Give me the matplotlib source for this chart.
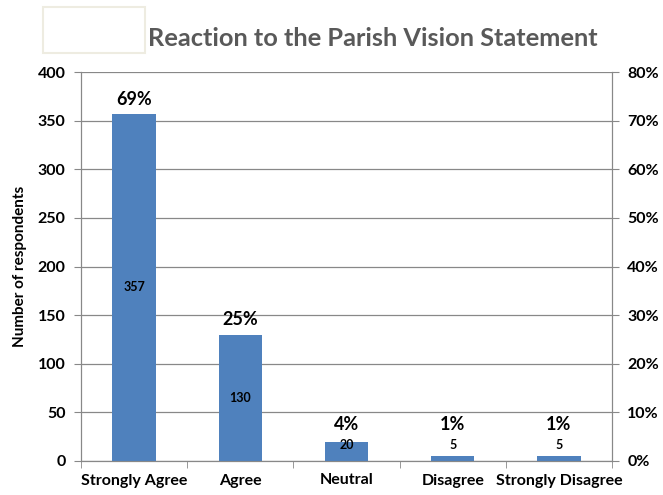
import matplotlib
matplotlib.use("Agg")
import matplotlib.pyplot as plt
from matplotlib.patches import Rectangle

categories = ["Strongly Agree", "Agree", "Neutral", "Disagree", "Strongly Disagree"]
counts = [357, 130, 20, 5, 5]
percent_labels = ["69%", "25%", "4%", "1%", "1%"]
left_ticks = [0, 50, 100, 150, 200, 250, 300, 350, 400]
right_ticks = [0, 0.1, 0.2, 0.3, 0.4, 0.5, 0.6, 0.7, 0.8]

plt.rcParams['font.family'] = ['Lato', 'DejaVu Sans']

fig = plt.figure(figsize=(6.63, 4.95), dpi=100)
W, H = 663, 495
ax = fig.add_axes([81 / W, 1 - 461 / H, (612 - 81) / W, (461 - 72) / H])

x = list(range(len(categories)))
ax.bar(x, counts, width=0.41, color="#4F81BD", zorder=3)
ax.set_xlim(-0.5, len(categories) - 0.5)
ax.set_ylim(0, 400)
ax.set_yticks(left_ticks)
ax.set_yticklabels([str(t) for t in left_ticks], fontsize=11.5, fontweight="bold")
ax.yaxis.grid(True, color="#888888", linewidth=0.9, zorder=0)
ax.set_xticks(x)
ax.set_xticklabels(categories, fontsize=11.5, fontweight="bold")
ax.tick_params(axis="x", length=0, pad=9)
ax.set_xticks([i - 0.5 for i in range(len(categories) + 1)], minor=True)
ax.tick_params(axis="x", which="minor", length=5, color="#888888")
ax.tick_params(axis="y", length=5, color="#888888", pad=6)
for s in ["left", "right", "bottom"]:
    ax.spines[s].set_color("#888888")
ax.spines["top"].set_visible(False)
ax.set_ylabel("Number of respondents", fontsize=11, fontweight="bold", labelpad=8)

ax2 = ax.twinx()
ax2.set_ylim(0, 0.8)
ax2.set_yticks(right_ticks)
ax2.set_yticklabels([f"{int(round(t*100))}%" for t in right_ticks], fontsize=11.5, fontweight="bold")
ax2.tick_params(axis="y", length=5, color="#888888", pad=6)
for s in ["left", "right", "bottom"]:
    ax2.spines[s].set_color("#888888")
ax2.spines["top"].set_visible(False)

for xi, c, p in zip(x, counts, percent_labels):
    ax.text(xi, max(c + 15, 38), p, ha="center", va="center", fontsize=13, fontweight="bold", zorder=5)
    ax.text(xi, max(c / 2, 16), str(c), ha="center", va="center", fontsize=9, fontweight="bold", zorder=5)

fig.patches.append(Rectangle((43 / W, 1 - 53 / H), 102 / W, 46 / H, transform=fig.transFigure,
                             facecolor="white", edgecolor="#EEECE1", linewidth=1.5))
fig.text(148 / W, 1 - 38 / H, "Reaction to the Parish Vision Statement", fontsize=18.3,
         fontweight="bold", color="#595959", ha="left", va="center")

fig.savefig("out.png", dpi=100)
